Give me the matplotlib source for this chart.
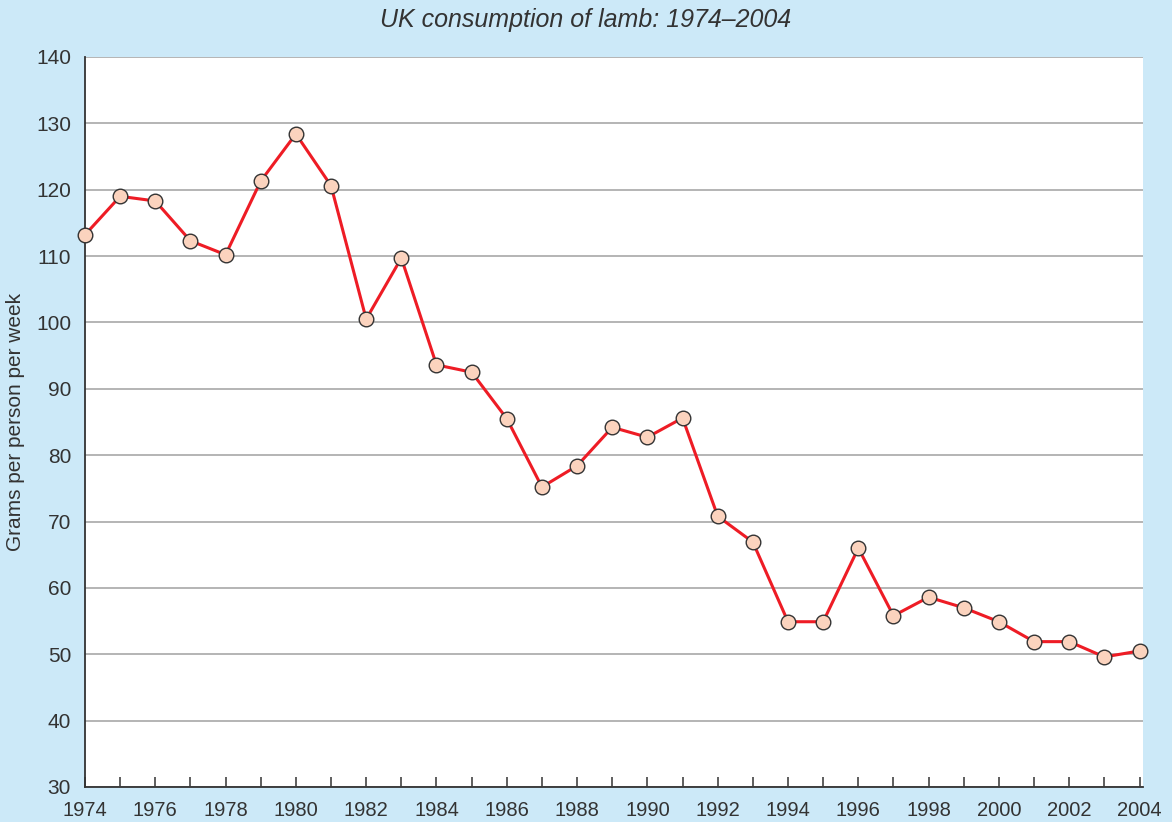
import matplotlib.pyplot as plt
from matplotlib.ticker import MultipleLocator

years = list(range(1974, 2005))
grams = [113.2, 119.0, 118.3, 112.3, 110.2, 121.3, 128.4, 120.6, 100.5, 109.7,
         93.6, 92.5, 85.5, 75.2, 78.4, 84.2, 82.7, 85.6, 70.8, 66.9,
         54.9, 54.9, 66.0, 55.8, 58.6, 57.0, 54.9, 51.9, 51.9, 49.6, 50.5]

plt.rcParams['font.family'] = ['Liberation Sans', 'DejaVu Sans']

bg = "#cce9f8"
fig = plt.figure(figsize=(11.72, 8.22), dpi=100, facecolor=bg)
ax = fig.add_axes([0.0725, 0.0426, 0.9028, 0.8881])
ax.set_facecolor("white")

ax.plot(years, grams, color="#ee1c25", lw=2.2, marker="o", ms=10.5,
        mfc="#fbd3be", mec="#333333", mew=1.0, zorder=3, clip_on=False)

ax.set_xlim(1974, 2004.1)
ax.set_ylim(30, 140)
ax.yaxis.set_major_locator(MultipleLocator(10))
ax.xaxis.set_major_locator(MultipleLocator(2))
ax.xaxis.set_minor_locator(MultipleLocator(1))
ax.grid(axis="y", color="#a0a0a0", lw=1.1)
ax.set_axisbelow(True)

for s in ["top", "right"]:
    ax.spines[s].set_visible(False)
for s in ["left", "bottom"]:
    ax.spines[s].set_color("#333333")
    ax.spines[s].set_linewidth(1.3)

ax.tick_params(axis="x", which="both", direction="in", length=7, width=1.1,
               color="#333333", labelsize=14.5, labelcolor="#333333", pad=10)
ax.tick_params(axis="y", length=0, labelsize=15, labelcolor="#333333", pad=10)

ax.set_ylabel("Grams per person per week", fontsize=15, color="#333333", labelpad=8)
fig.text(0.5, 0.976, "UK consumption of lamb: 1974\u20132004", ha="center", va="center",
         fontsize=18, style="italic", color="#333333")

fig.savefig("out.png", dpi=100, facecolor=bg)
